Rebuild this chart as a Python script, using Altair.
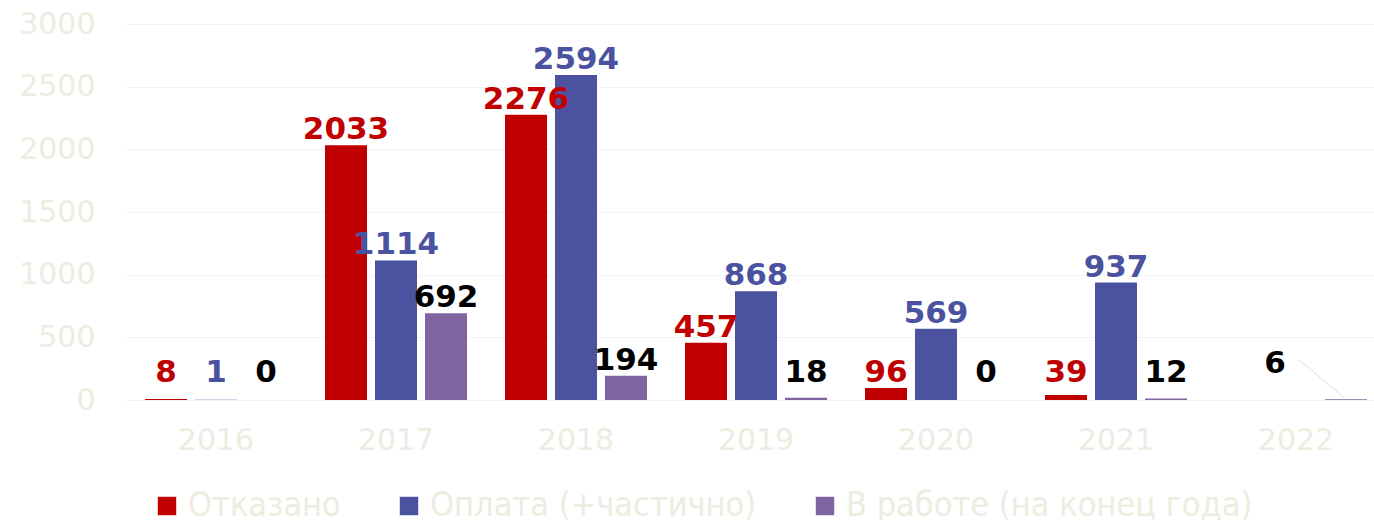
import altair as alt
import pandas as pd

years = ["2016", "2017", "2018", "2019", "2020", "2021", "2022"]
series = ["Отказано", "Оплата (+частично)", "В работе (на конец года)"]
otkazano = [8, 2033, 2276, 457, 96, 39, None]
oplata = [1, 1114, 2594, 868, 569, 937, None]
v_rabote = [0, 692, 194, 18, 0, 12, 6]
y_ticks = [0, 500, 1000, 1500, 2000, 2500, 3000]

bar_colors = ["#C00000", "#4B53A1", "#8064A2"]
label_colors = ["#C00000", "#4B53A1", "#000000"]
light = "#EEECE1"

rows = []
for s, vals in zip(series, [otkazano, oplata, v_rabote]):
    for y, v in zip(years, vals):
        if v is not None:
            rows.append({"Год": y, "Серия": s, "Значение": v})
df = pd.DataFrame(rows)

base = alt.Chart(df).transform_calculate(
    ly="max(datum['Значение'], 96)"
)

x = alt.X("Год:N", sort=years,
          scale=alt.Scale(range=[0, 1260], paddingInner=0, paddingOuter=0),
          axis=alt.Axis(title=None, labelAngle=0, labelFont="DejaVu Sans", labelFontSize=30,
                        labelColor=light, labelPadding=25, ticks=False, domain=False))
xo = alt.XOffset("Серия:N", sort=series,
                 scale=alt.Scale(domain=series, paddingInner=0.16, paddingOuter=0.38))

bars = base.mark_bar().encode(
    x=x,
    xOffset=xo,
    y=alt.Y("Значение:Q", scale=alt.Scale(domain=[0, 3000]),
            axis=alt.Axis(title=None, values=y_ticks, format="d", labelFont="DejaVu Sans",
                          labelFontSize=30, labelColor=light, labelPadding=31, ticks=False,
                          domain=False, gridColor="#F3F3F3", gridWidth=1.2)),
    color=alt.Color("Серия:N", sort=series,
                    scale=alt.Scale(domain=series, range=bar_colors),
                    legend=alt.Legend(title=None, orient="none", direction="horizontal",
                                      legendX=24, legendY=465,
                                      symbolType="square", symbolSize=340, symbolStrokeWidth=0,
                                      labelFont="DejaVu Sans Condensed", labelFontSize=34,
                                      labelColor=light, labelOffset=4, columnPadding=51,
                                      labelLimit=600)),
)

is_special = "datum['Год'] == '2022' && datum['Серия'] == 'В работе (на конец года)'"

labels = base.transform_filter("!(" + is_special + ")").mark_text(
    font="DejaVu Sans", fontWeight="bold", fontSize=31, baseline="alphabetic", dy=-6
).encode(
    x=x,
    xOffset=xo,
    y=alt.Y("ly:Q"),
    text=alt.Text("Значение:Q"),
    color=alt.Color("Серия:N", sort=series,
                    scale=alt.Scale(domain=series, range=label_colors), legend=None),
)

special = base.transform_filter(is_special).mark_text(
    font="DejaVu Sans", fontWeight="bold", fontSize=31, baseline="alphabetic", dy=-15, dx=-71,
    color="#000000"
).encode(
    x=x,
    xOffset=xo,
    y=alt.Y("ly:Q"),
    text=alt.Text("Значение:Q"),
)

leader = base.transform_filter(is_special).mark_rule(
    color=light, strokeWidth=1.5, xOffset=3, x2Offset=49, yOffset=-28, y2Offset=-1
).encode(
    x=alt.X("Год:N", sort=years),
    x2=alt.X2("Год"),
    y=alt.Y("ly:Q"),
    y2=alt.Y2("Значение"),
)

chart = alt.layer(bars, leader, labels, special).resolve_scale(
    color="independent"
).properties(
    width=1248, height=376,
    padding={"left": 126, "top": 24, "right": 0, "bottom": 120},
    autosize="none",
).configure_view(strokeWidth=0)

chart.save("out.html", embed_options={"renderer": "svg", "actions": False})
